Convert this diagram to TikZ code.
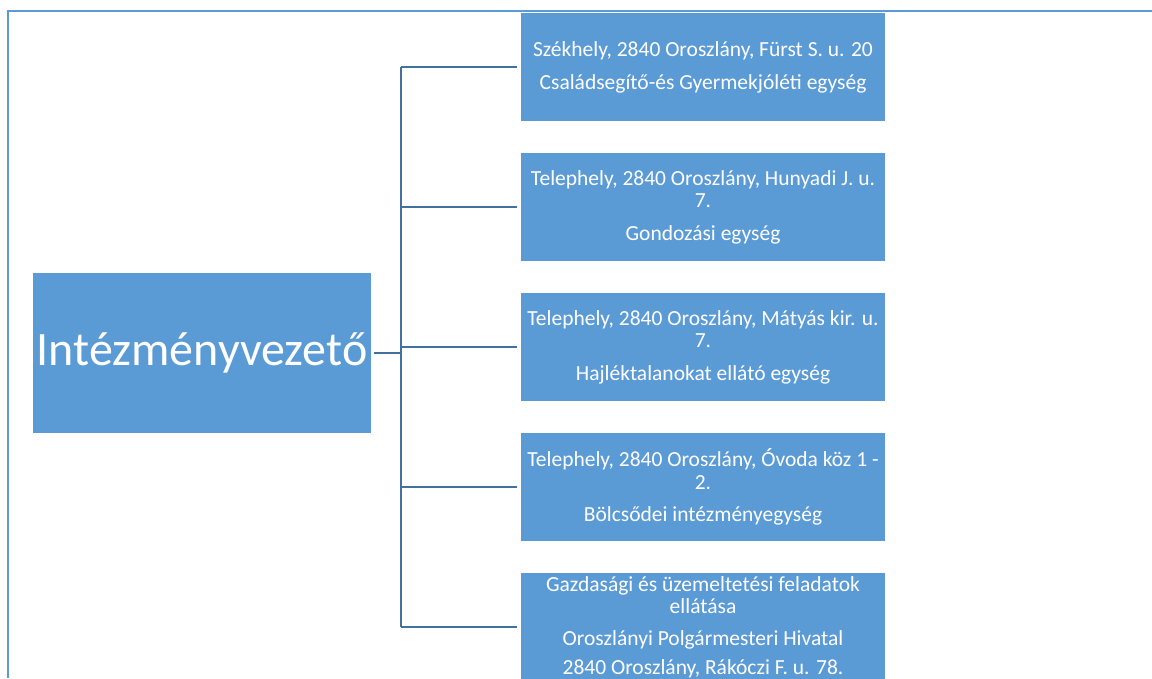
\documentclass[tikz,border=0pt]{standalone}
\usepackage{fontspec}
\setmainfont{Carlito}
\usepackage{tikz}
\definecolor{boxblue}{HTML}{5B9BD5}
\definecolor{lineblue}{HTML}{41719C}

\begin{document}
\begin{tikzpicture}[x=1pt, y=-1pt]
\tikzstyle{mybox} = [rectangle, fill = boxblue, text = white, inner sep = 0 pt, align = center]
\tikzstyle{unitbox} = [mybox, minimum width = 364 pt, minimum height = 108 pt, font = \fontsize{21.5}{22.7}\selectfont]
\tikzstyle{myline} = [draw = lineblue, line width = 2.4 pt]
\useasboundingbox (0,0) rectangle (1152,678);
\draw [boxblue, line width = 1.2 pt] (8,678) -- (8,11) -- (1152,11);

\node [mybox, minimum width = 338 pt, minimum height = 160 pt, font = \fontsize{48}{56}\selectfont] (root) at (202,353) {Intézményvezető};

\node [unitbox] (u1) at (703,67) {Székhely, 2840 Oroszlány, Fürst S. u. 20\\[10.5pt]Családsegítő-és Gyermekjóléti egység};
\node [unitbox] (u2) at (703,207) {Telephely, 2840 Oroszlány, Hunyadi J. u.\\7.\\[9.6pt]Gondozási egység};
\node [unitbox] (u3) at (703,347) {Telephely, 2840 Oroszlány, Mátyás kir. u.\\7.\\[9.6pt]Hajléktalanokat ellátó egység};
\node [unitbox] (u4) at (703,487) {Telephely, 2840 Oroszlány, Óvoda köz 1 -\\2.\\[9.6pt]Bölcsődei intézményegység};
\node [unitbox] (u5) at (703,627) {Gazdasági és üzemeltetési feladatok\\ellátása\\[8.5pt]Oroszlányi Polgármesteri Hivatal\\[6.5pt]2840 Oroszlány, Rákóczi F. u. 78.};

\coordinate (fork) at (401,353);
\draw [myline, shorten < = 3 pt] (root.east) -- (fork);
\draw [myline] (fork |- u1) -- (fork |- u5);
\foreach \u in {u1,u2,u3,u4,u5}
  \draw [myline, shorten > = 4 pt] (fork |- \u) -- (\u.west);

\end{tikzpicture}
\end{document}
